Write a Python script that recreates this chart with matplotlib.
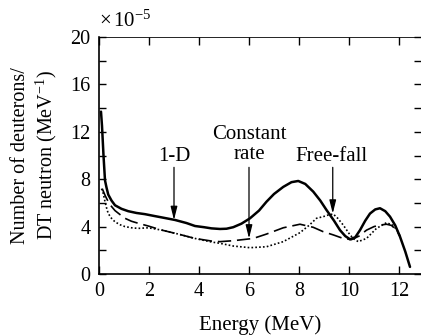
import matplotlib
matplotlib.use("Agg")
import matplotlib.pyplot as plt
from matplotlib.ticker import MultipleLocator

plt.rcParams['font.family'] = ['Liberation Serif', 'DejaVu Serif']
plt.rcParams['mathtext.fontset'] = 'custom'
plt.rcParams['mathtext.rm'] = 'Liberation Serif'
plt.rcParams['mathtext.it'] = 'Liberation Serif:italic'

# 1-D (solid)
x_1d = [0.08, 0.12, 0.18, 0.24, 0.3, 0.37, 0.5, 0.64, 0.9, 1.17, 1.5, 1.84, 2.2, 2.5,
        3.04, 3.5, 3.84, 4.2, 4.5, 4.84, 5.1, 5.37, 5.7, 6.04, 6.4, 6.7, 7.0, 7.37,
        7.7, 7.97, 8.25, 8.57, 8.85, 9.1, 9.4, 9.64, 9.85, 10.04, 10.25, 10.44, 10.65,
        10.84, 11.05, 11.24, 11.45, 11.64, 11.85, 12.04, 12.25, 12.44]
y_1d = [13.7, 12.5, 10.0, 7.9, 7.3, 6.7, 6.2, 5.8, 5.5, 5.3, 5.15, 5.05, 4.9, 4.78,
        4.56, 4.3, 4.05, 3.95, 3.85, 3.8, 3.82, 3.95, 4.25, 4.7, 5.35, 6.1, 6.75, 7.35,
        7.75, 7.85, 7.6, 6.95, 6.2, 5.4, 4.5, 3.7, 3.2, 2.93, 3.1, 3.7, 4.5,
        5.1, 5.45, 5.55, 5.3, 4.84, 4.1, 3.15, 1.9, 0.6]

# Constant rate (dashed)
x_cr = [0.13, 0.25, 0.37, 0.5, 0.64, 0.85, 1.04, 1.3, 1.57, 1.97, 2.5, 3.17, 3.84, 4.5,
        4.84, 5.37, 6.17, 6.7, 7.37, 8.04, 8.57, 8.97, 9.37, 9.77, 10.1, 10.4, 10.7,
        11.0, 11.24, 11.5, 11.7, 11.9, 12.04]
y_cr = [7.2, 6.6, 6.1, 5.7, 5.35, 5.0, 4.7, 4.45, 4.28, 4.05, 3.71, 3.37, 3.0, 2.78,
        2.73, 2.81, 3.0, 3.37, 3.9, 4.2, 3.94, 3.57, 3.3, 3.0, 2.9, 3.2, 3.7,
        4.0, 4.13, 4.2, 4.1, 3.7, 3.2]

# Free-fall (dotted)
x_ff = [0.1, 0.17, 0.24, 0.3, 0.37, 0.5, 0.64, 0.85, 1.04, 1.3, 1.57, 1.97, 2.5, 3.17,
        3.84, 4.5, 4.84, 5.37, 6.04, 6.7, 7.37, 8.04, 8.4, 8.7, 8.97, 9.2, 9.37, 9.55,
        9.77, 10.04, 10.2, 10.37, 10.7, 11.1, 11.5, 11.77, 11.95, 12.04]
y_ff = [7.2, 6.8, 6.1, 5.6, 5.1, 4.7, 4.4, 4.15, 4.0, 3.9, 3.85, 3.9, 3.71, 3.37,
        3.0, 2.7, 2.59, 2.36, 2.22, 2.3, 2.73, 3.49, 4.1, 4.7, 4.84, 5.0, 5.06, 4.7,
        4.13, 3.3, 2.95, 2.73, 3.0, 3.85, 4.33, 4.1, 3.6, 3.2]

x_ticks = [0, 2, 4, 6, 8, 10, 12]
y_ticks = [0, 4, 8, 12, 16, 20]

fig = plt.figure(figsize=(4.21, 3.36), dpi=100)
ax = fig.add_axes([99/421, 1-274/336, (421-99)/421, (274-37)/336])

ax.plot(x_1d, y_1d, color='black', lw=1.8, solid_capstyle='round')
ax.plot(x_cr, y_cr, color='black', lw=1.2, dashes=(8, 3.5))
ax.plot(x_ff, y_ff, color='black', lw=1.2, dashes=(1, 1.3))

ax.set_xlim(0, 12.88)
ax.set_ylim(0, 20)
ax.set_xticks(x_ticks)
ax.set_yticks(y_ticks)
ax.yaxis.set_minor_locator(MultipleLocator(2))
ax.tick_params(axis='both', which='both', direction='in', labelsize=14.5, colors='black')
ax.tick_params(axis='x', which='major', length=6, width=1, top=True, pad=6)
ax.tick_params(axis='y', which='both', length=5, width=1, right=True, pad=6)
ax.spines['right'].set_visible(False)
ax.spines['top'].set_linewidth(0.6)
ax.spines['left'].set_linewidth(1.2)
ax.spines['bottom'].set_linewidth(1.2)

ax.set_xlabel('Energy (MeV)', fontsize=15, labelpad=10)
ax.set_ylabel('Number of deuterons/\nDT neutron (MeV$^{-1}$)', fontsize=14.5, labelpad=8,
              linespacing=1.2)
ax.text(0.0, 1.02, r'$\times\,10^{-5}$', transform=ax.transAxes, fontsize=15,
        ha='left', va='bottom')

arrow = dict(arrowstyle='-|>,head_length=0.8,head_width=0.2', color='black', lw=0.9,
             shrinkA=0, shrinkB=0)
ax.annotate('', xy=(3.0, 4.56), xytext=(3.0, 9.0), arrowprops=arrow)
ax.text(3.0, 9.95, '1-D', ha='center', va='center', fontsize=15)
ax.annotate('', xy=(6.0, 3.0), xytext=(6.0, 9.0), arrowprops=arrow)
ax.text(6.0, 10.95, 'Constant\nrate', ha='center', va='center', fontsize=15,
        linespacing=1.1)
ax.annotate('', xy=(9.35, 5.1), xytext=(9.35, 9.0), arrowprops=arrow)
ax.text(9.3, 9.95, 'Free-fall', ha='center', va='center', fontsize=15)

fig.savefig('out.png', dpi=100)
